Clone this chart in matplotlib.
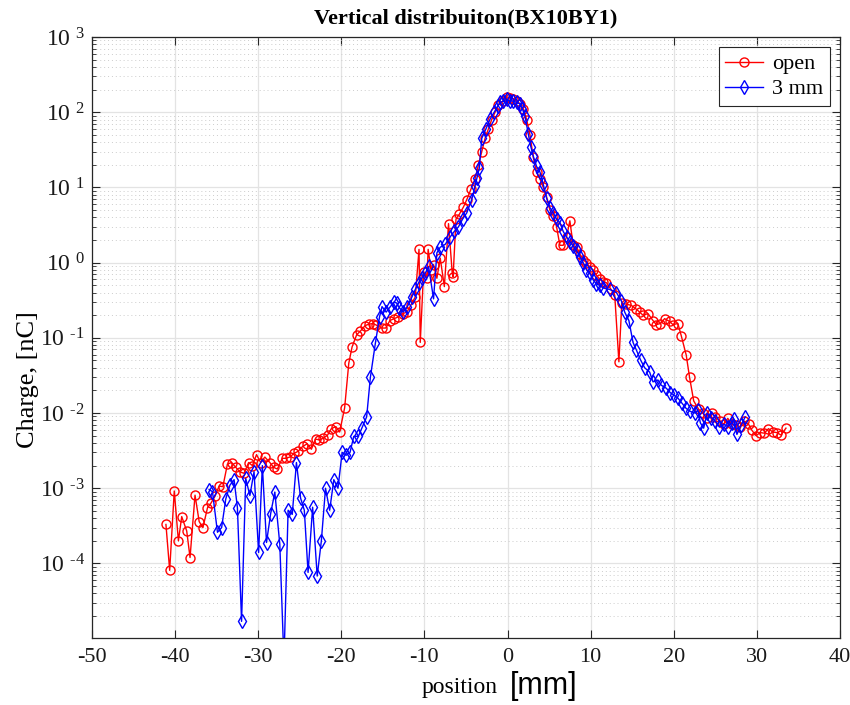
import numpy as np
import matplotlib
matplotlib.use("Agg")
import matplotlib.pyplot as plt
from matplotlib.ticker import FixedLocator, FixedFormatter, LogLocator, NullFormatter

# ─────────────────────────────────────────────
# Data
# ─────────────────────────────────────────────

open_x = [-41.1, -40.65, -40.1, -39.6, -39.2, -38.6, -38.2, -37.6, -37.1, -36.65,
          -36.1, -35.7, -35.2, -34.7, -34.25, -33.7, -33.2, -32.7, -32.2, -31.7,
          -31.15, -30.7, -30.2, -29.7, -29.2, -28.6, -28.15, -27.7, -27.1, -26.7,
          -26.2, -25.7, -25.2, -24.65, -24.1, -23.6, -23.1, -22.65, -22.2, -21.65,
          -21.2, -20.65, -20.2, -19.6, -19.1, -18.7, -18.15, -17.7, -17.15, -16.7,
          -16.2, -15.8, -15.15, -14.65, -14.15, -13.65, -13.15, -12.6, -12.1, -11.6,
          -11.1, -10.65, -10.5, -10.1, -9.7, -9.55, -9.2, -8.9, -8.5, -8.1,
          -7.6, -7.1, -6.65, -6.55, -6.2, -5.8, -5.3, -4.9, -4.4, -3.9,
          -3.5, -3.1, -2.7, -2.3, -1.9, -1.5, -1.1, -0.6, -0.1, 0.3,
          0.7, 1.1, 1.5, 1.9, 2.3, 2.7, 3.1, 3.5, 3.9, 4.3,
          4.7, 5.1, 5.5, 5.9, 6.3, 6.7, 7.1, 7.5, 7.9, 8.3,
          8.7, 9.1, 9.5, 9.9, 10.3, 10.7, 11.1, 11.5, 11.9, 12.4,
          12.9, 13.4, 13.75, 14.3, 14.9, 15.5, 15.9, 16.3, 16.9, 17.5,
          17.9, 18.4, 18.9, 19.5, 19.9, 20.5, 20.9, 21.5, 21.9, 22.4,
          23.0, 23.5, 24.0, 24.6, 25.0, 25.6, 26.0, 26.5, 27.0, 27.5,
          28.0, 28.5, 29.0, 29.4, 29.9, 30.4, 30.9, 31.4, 31.9, 32.4,
          32.9, 33.5]
open_y = [3.3e-4, 8.1e-5, 9.2e-4, 2.0e-4, 4.2e-4, 2.7e-4, 1.2e-4, 8.1e-4, 3.6e-4, 3.0e-4,
          5.5e-4, 6.3e-4, 7.8e-4, 1.07e-3, 1.05e-3, 2.1e-3, 2.2e-3, 1.9e-3, 1.65e-3, 1.58e-3,
          2.2e-3, 2.0e-3, 2.8e-3, 2.2e-3, 2.6e-3, 2.2e-3, 1.9e-3, 1.8e-3, 2.5e-3, 2.5e-3,
          2.6e-3, 2.9e-3, 3.1e-3, 3.6e-3, 3.9e-3, 3.3e-3, 4.5e-3, 4.4e-3, 4.6e-3, 5.1e-3,
          6.2e-3, 6.6e-3, 5.6e-3, 1.17e-2, 4.6e-2, 7.6e-2, 0.11, 0.123, 0.145, 0.152,
          0.155, 0.148, 0.135, 0.135, 0.17, 0.18, 0.19, 0.21, 0.22, 0.275,
          0.35, 1.5, 0.087, 0.76, 0.63, 1.5, 0.8, 0.94, 0.62, 1.15,
          0.48, 3.3, 0.72, 0.65, 3.8, 4.4, 5.5, 6.9, 9.5, 13,
          20, 30, 45, 60, 80, 100, 125, 140, 160, 155,
          150, 140, 130, 110, 80, 50, 25, 16, 13, 10,
          7.5, 5.0, 4.2, 3.0, 1.7, 1.7, 2.2, 3.6, 1.7, 1.6,
          1.3, 1.1, 1.0, 0.87, 0.80, 0.68, 0.60, 0.56, 0.54, 0.45,
          0.37, 0.048, 0.29, 0.28, 0.27, 0.24, 0.22, 0.20, 0.21, 0.17,
          0.15, 0.155, 0.18, 0.165, 0.15, 0.155, 0.107, 0.059, 0.030, 0.0145,
          0.0112, 0.010, 0.0085, 0.010, 0.0089, 0.0078, 0.0071, 0.0085, 0.0071, 0.0069,
          0.0066, 0.0078, 0.0071, 0.0059, 0.0050, 0.0055, 0.0054, 0.0062, 0.0056, 0.0055,
          0.0051, 0.0063]

mm3_x = [-35.9, -35.5, -34.9, -34.4, -33.9, -33.4, -32.9, -32.5, -32.0, -31.5,
         -31.0, -30.5, -29.95, -29.5, -29.0, -28.5, -28.0, -27.4, -26.9, -26.4,
         -25.9, -25.4, -24.9, -24.45, -24.0, -23.45, -22.9, -22.4, -21.9, -21.4,
         -20.9, -20.4, -19.9, -19.4, -18.95, -18.5, -17.95, -17.5, -16.95, -16.5,
         -15.9, -15.4, -15.1, -14.6, -14.1, -13.65, -13.35, -13.0, -12.55, -12.05,
         -11.5, -11.1, -10.7, -10.3, -9.9, -9.5, -8.9, -8.5, -8.1, -7.5,
         -6.9, -6.4, -5.9, -5.4, -4.9, -4.3, -3.9, -3.65, -3.4, -3.1,
         -2.6, -2.1, -1.6, -1.2, -0.9, -0.5, -0.1, 0.3, 0.7, 1.1,
         1.5, 1.8, 2.1, 2.5, 2.8, 3.1, 3.5, 3.9, 4.3, 4.7,
         5.1, 5.5, 5.9, 6.3, 6.7, 7.1, 7.5, 7.9, 8.3, 8.7,
         9.1, 9.5, 9.9, 10.3, 10.7, 11.1, 11.5, 12.3, 13.1, 13.7,
         14.1, 14.6, 15.1, 15.5, 16.0, 16.5, 17.1, 17.5, 18.1, 18.5,
         19.1, 19.6, 20.0, 20.5, 21.0, 21.5, 22.0, 22.6, 22.9, 23.2,
         23.6, 24.0, 24.5, 25.0, 25.5, 26.0, 26.5, 27.0, 27.2, 27.6,
         28.1, 28.6]
mm3_y = [9.6e-4, 9.0e-4, 2.6e-4, 3.0e-4, 7.2e-4, 1.1e-3, 1.3e-3, 5.5e-4, 1.7e-5, 1.35e-3,
         8.0e-4, 1.66e-3, 1.4e-4, 2.0e-3, 1.9e-4, 4.6e-4, 8.9e-4, 1.8e-4, 5e-6, 5.1e-4,
         4.5e-4, 2.2e-3, 7.4e-4, 5.1e-4, 7.6e-5, 5.6e-4, 6.8e-5, 2.0e-4, 1.0e-3, 5.1e-4,
         1.3e-3, 1.0e-3, 3.0e-3, 2.75e-3, 3.0e-3, 4.9e-3, 4.9e-3, 6.4e-3, 8.9e-3, 3.0e-2,
         0.085, 0.19, 0.26, 0.22, 0.26, 0.30, 0.29, 0.25, 0.22, 0.26,
         0.35, 0.44, 0.54, 0.63, 0.72, 0.89, 0.33, 1.35, 1.6, 1.75,
         2.2, 2.6, 3.0, 3.8, 4.6, 6.9, 10.5, 13.5, 18, 45,
         60, 81, 100, 120, 135, 140, 148, 140, 141, 135,
         129, 110, 89, 51, 35, 26, 19, 16, 11, 7.2,
         5.4, 4.6, 3.8, 3.4, 2.6, 2.2, 1.9, 1.66, 1.45, 1.2,
         1.0, 0.81, 0.72, 0.59, 0.52, 0.50, 0.46, 0.44, 0.40, 0.31,
         0.22, 0.17, 0.087, 0.069, 0.051, 0.040, 0.035, 0.026, 0.0275, 0.0234,
         0.0214, 0.0186, 0.0174, 0.0158, 0.0135, 0.0115, 0.0105, 0.0100, 0.0110, 0.0074,
         0.0063, 0.0100, 0.0087, 0.0078, 0.0065, 0.0071, 0.0066, 0.0074, 0.0083, 0.0052,
         0.0069, 0.0089]

x_ticks = [-50, -40, -30, -20, -10, 0, 10, 20, 30, 40]
y_exps  = [-4, -3, -2, -1, 0, 1, 2, 3]

# ─────────────────────────────────────────────
# Style
# ─────────────────────────────────────────────

SERIF = "Liberation Serif"
plt.rcParams['font.family'] = [SERIF, 'DejaVu Serif']
plt.rcParams['mathtext.fontset'] = 'custom'
plt.rcParams['mathtext.rm'] = SERIF
plt.rcParams['mathtext.it'] = SERIF + ':italic'
TICK_FS  = 16
LABEL_FS = 17
AX_COLOR = '#262626'

fig = plt.figure(figsize=(8.5, 7.05), dpi=100, facecolor='white')
ax = fig.add_axes([0.1082, 0.095, 0.8800, 0.8525])

ax.plot(open_x, open_y, color='red', lw=1.0, marker='o', ms=6.5,
        mfc='none', mew=1.0, label='open')
ax.plot(mm3_x, mm3_y, color='blue', lw=1.0, marker='d', ms=7,
        mfc='none', mew=1.0, label='3 mm')

ax.set_yscale('log')
ax.set_xlim(-50, 40)
ax.set_ylim(1.02e-5, 1e3)

ax.xaxis.set_major_locator(FixedLocator(x_ticks))
ax.set_xticklabels([str(t).replace('-', '\u2010') for t in x_ticks])
ax.yaxis.set_major_locator(FixedLocator([10.0 ** e for e in y_exps]))
ylabels = [r'10$^{\ \,%s}$' % str(e).replace('-', '\u2010') for e in y_exps]
ax.yaxis.set_major_formatter(FixedFormatter(ylabels))
ax.yaxis.set_minor_locator(LogLocator(base=10, subs=np.arange(2, 10), numticks=20))
ax.yaxis.set_minor_formatter(NullFormatter())

ax.tick_params(which='both', direction='in', top=True, right=True,
               colors=AX_COLOR, labelcolor='#1a1a1a', labelsize=TICK_FS)
ax.tick_params(axis='y', labelsize=17, pad=5)
ax.tick_params(which='major', length=6, width=0.8)
ax.tick_params(which='minor', length=3, width=0.6)
ax.tick_params(axis='x', pad=7)
for s in ax.spines.values():
    s.set_color(AX_COLOR)
    s.set_linewidth(0.9)

ax.grid(True, which='major', color='#e3e3e3', lw=0.9, ls='-')
ax.grid(True, which='minor', axis='y', color='#cccccc', lw=0.7, ls=(0, (1, 3)))
ax.set_axisbelow(True)

ax.set_title('Vertical distribuiton(BX10BY1)', fontsize=16, fontweight='bold', pad=10)
ax.set_ylabel('Charge, [nC]', fontsize=19, labelpad=2)
ax.yaxis.set_label_coords(-0.071, 0.43)

# x label: serif word followed by a larger sans "[mm]"
fig.text(0.585, 0.017, 'position', fontsize=LABEL_FS, ha='right', va='baseline')
fig.text(0.600, 0.015, '[mm]', fontsize=22, family='Liberation Sans',
         ha='left', va='baseline')

leg = ax.legend(loc='upper right', fontsize=16, fancybox=False, framealpha=1,
                edgecolor=AX_COLOR, handlelength=1.7, handletextpad=0.4,
                borderpad=0.3, labelspacing=0.2, borderaxespad=0,
                bbox_to_anchor=(0.9866, 0.983))
leg.get_frame().set_linewidth(0.8)

plt.savefig('out.png', dpi=100, facecolor='white')
plt.close()
